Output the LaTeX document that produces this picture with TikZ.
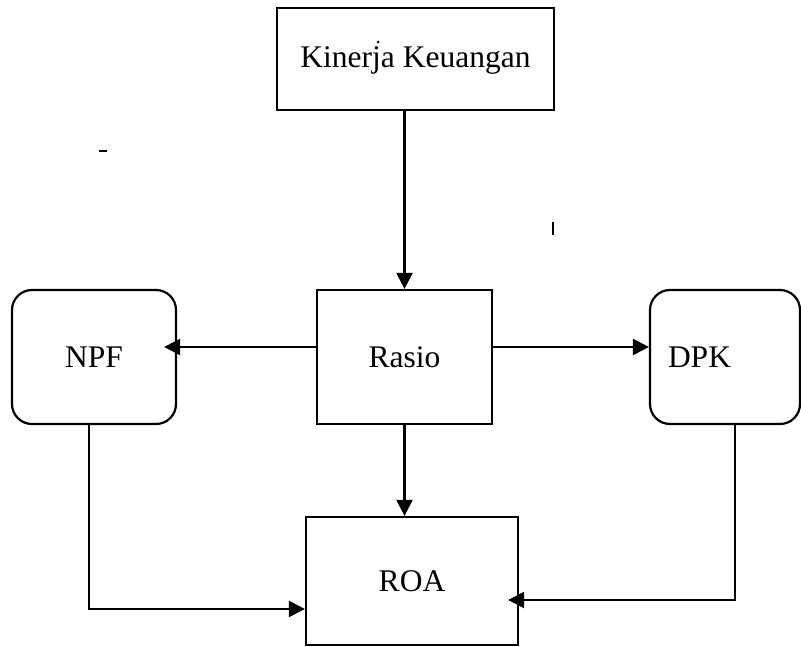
\documentclass[tikz,border=0pt]{standalone}
\usepackage{fontspec}
\setmainfont{Liberation Serif}
\usetikzlibrary{arrows.meta}
\tikzset{
	box/.style={draw, line width=2.2pt, minimum width=#1, inner sep=0pt},
	conn/.style={line width=2.2pt, -{Triangle[length=16pt,width=16pt]}},
}
\begin{document}
\begin{tikzpicture}[x=1pt, y=-1pt, font=\fontsize{31.5}{36}\selectfont]
			\useasboundingbox (0,0) rectangle (801,646);
			\node [box=277pt, minimum height=102pt, text depth=4pt] (kinerja) at (415.5,59) {Kinerja Keuangan};
			\node [box=175pt, minimum height=134pt] (rasio) at (404.5,357) {Rasio};
			\node [box=164pt, minimum height=134pt, rounded corners=20pt] (npf) at (94,357) {NPF};
			\node [draw, line width=2.2pt, rounded corners=20pt, minimum height=134pt,
				text width=114pt, inner xsep=18pt, align=left] (dpk) at (725,357) {DPK};
			\node [box=212pt, minimum height=128pt] (roa) at (412,581) {ROA};

			% stray marks
			\fill (378,42) circle (1.5);
			\draw [line width=2pt] (99,151) -- (107,151);
			\draw [line width=2pt] (553,222) -- (553,235);

			\draw [conn] (rasio.north |- kinerja.south) -- (rasio.north);
			\draw [conn] (rasio.south) -- (rasio.south |- roa.north);
			\draw [conn, shorten >=-13pt] ([yshift=10pt]rasio.west) -- ([yshift=10pt]npf.east);
			\draw [conn] ([yshift=10pt]rasio.east) -- ([yshift=10pt]dpk.west);
			\draw [conn] ([xshift=-5pt]npf.south) |- ([yshift=-28pt]roa.west);
			\draw [conn, shorten >=-11pt] ([xshift=10pt]dpk.south) |- ([yshift=-19pt]roa.east);
\end{tikzpicture}
\end{document}
